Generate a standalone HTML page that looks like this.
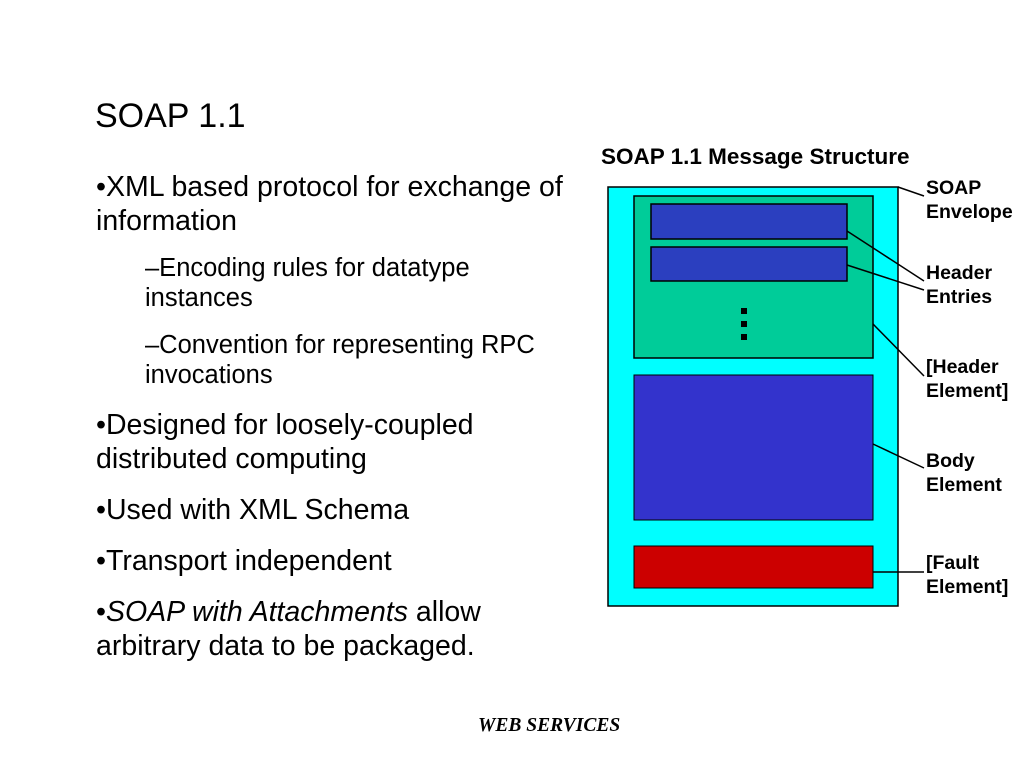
<!DOCTYPE html>
<html><head><meta charset="utf-8"><style>
body{margin:0;width:1024px;height:768px;background:#fff;position:relative;overflow:hidden;font-family:"Liberation Sans",Arial,sans-serif;}
.a{position:absolute;white-space:nowrap;color:#000}
.b{font-size:28.5px;line-height:34px}
.s{font-size:25.5px;line-height:30px}
.l{font-size:19.5px;font-weight:bold;line-height:24px}
</style></head><body>
<div class="a" style="left:95px;top:97px;font-size:34px;">SOAP 1.1</div>
<div class="a b" style="left:96px;top:170px;">•XML based protocol for exchange of<br>information</div>
<div class="a s" style="left:145px;top:253px;">–Encoding rules for datatype<br>instances</div>
<div class="a s" style="left:145px;top:330px;">–Convention for representing RPC<br>invocations</div>
<div class="a b" style="left:96px;top:408px;">•Designed for loosely-coupled<br>distributed computing</div>
<div class="a b" style="left:96px;top:493px;">•Used with XML Schema</div>
<div class="a b" style="left:96px;top:544px;">•Transport independent</div>
<div class="a b" style="left:96px;top:595px;">•<i>SOAP with Attachments</i> allow<br>arbitrary data to be packaged.</div>
<div class="a" style="left:601px;top:144px;font-size:22.5px;font-weight:bold;">SOAP 1.1 Message Structure</div>
<svg class="a" style="left:0;top:0" width="1024" height="768">
<g stroke="#000" stroke-width="1.5">
<rect x="608" y="187" width="290" height="419" fill="#00ffff"/>
<rect x="634" y="196" width="239" height="162" fill="#00cc99"/>
<rect x="651" y="204" width="196" height="35" fill="#2b3fbf"/>
<rect x="651" y="247" width="196" height="34" fill="#2b3fbf"/>
<rect x="634" y="375" width="239" height="145" fill="#3333cc" stroke-width="1"/>
<rect x="634" y="546" width="239" height="42" fill="#cc0000" stroke-width="1"/>
<path d="M898 187L924 196M847 231L924 281M847 265L924 290M873 324L924 376M873 444L924 468M873 572L924 572" fill="none"/>
</g>
<rect x="741" y="308" width="6" height="6"/><rect x="741" y="321" width="6" height="6"/><rect x="741" y="334" width="6" height="6"/>
</svg>
<div class="a l" style="left:926px;top:176px;">SOAP<br>Envelope</div>
<div class="a l" style="left:926px;top:261px;">Header<br>Entries</div>
<div class="a l" style="left:926px;top:355px;">[Header<br>Element]</div>
<div class="a l" style="left:926px;top:449px;">Body<br>Element</div>
<div class="a l" style="left:926px;top:551px;">[Fault<br>Element]</div>
<div class="a" style="left:478px;top:715px;font-family:'Liberation Serif',serif;font-size:19.5px;font-weight:bold;font-style:italic;">WEB SERVICES</div>
</body></html>
